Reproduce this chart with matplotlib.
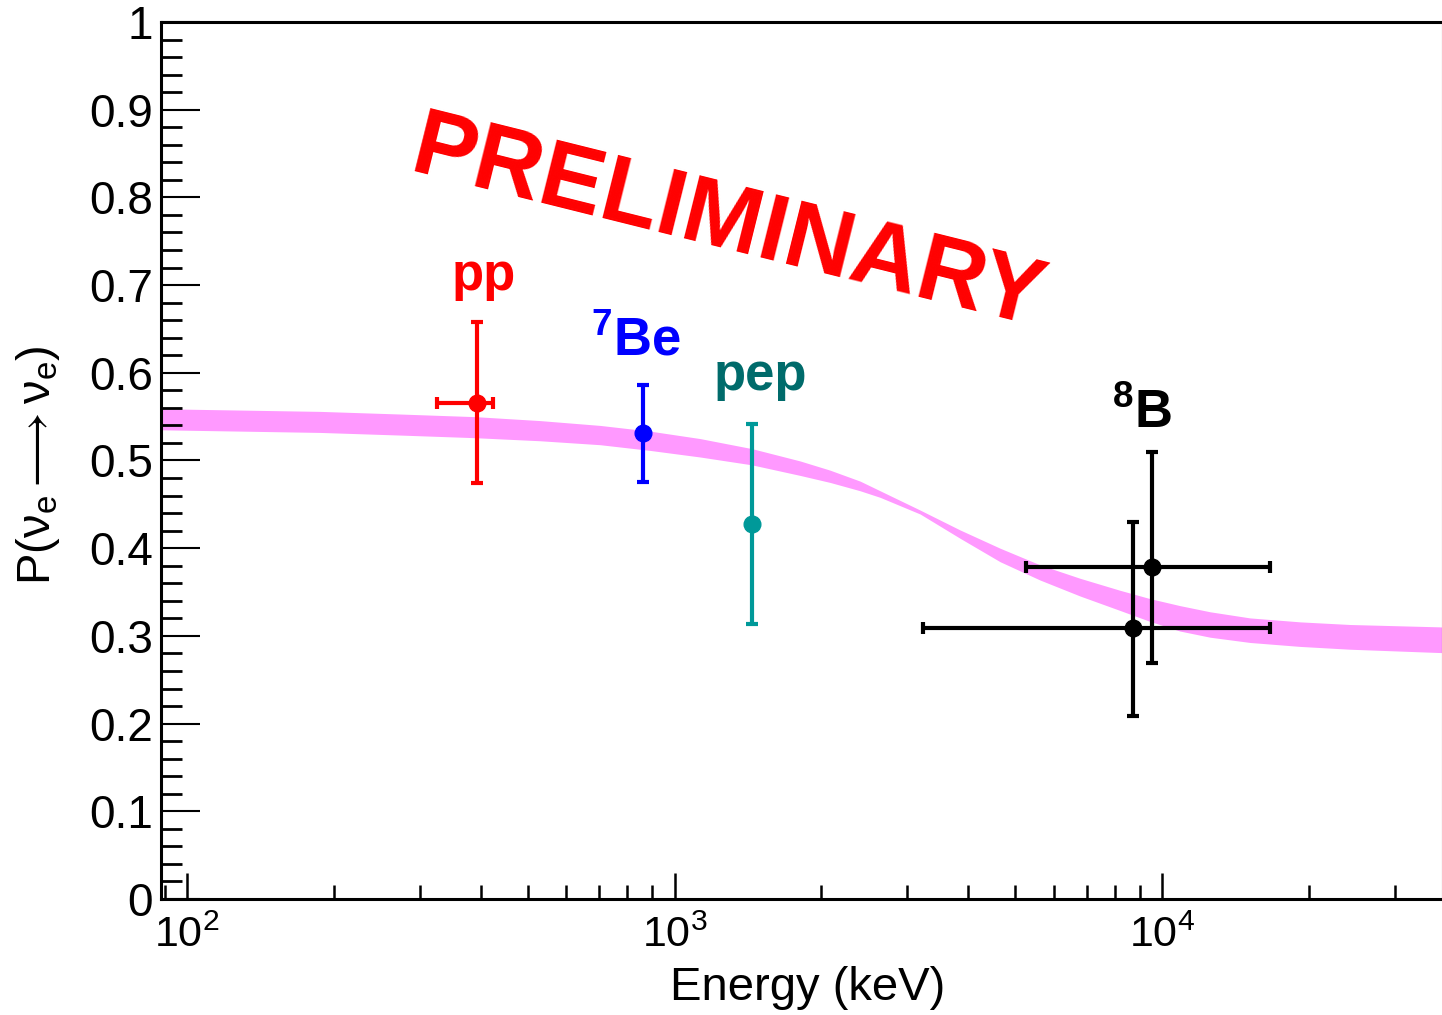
import numpy as np
import matplotlib
matplotlib.use("Agg")
import matplotlib.pyplot as plt
from matplotlib.ticker import MultipleLocator, LogLocator, NullFormatter, FuncFormatter

plt.rcParams['font.family'] = ['Liberation Sans', 'DejaVu Sans']
plt.rcParams['mathtext.fontset'] = 'custom'
plt.rcParams['mathtext.rm'] = 'Liberation Sans'
plt.rcParams['mathtext.it'] = 'Liberation Sans:italic'
plt.rcParams['mathtext.bf'] = 'Liberation Sans:bold'

# MSW-LMA survival probability band
band_E = [88.4, 187.5, 273.5, 389.8, 530, 703.5, 890.6, 1128, 1442, 1809,
          2084, 2402, 2640, 3189, 3852, 4653, 5620, 6788, 8200, 9449,
          10887, 12546, 15152, 19194, 24300, 37180, 37700]
band_hi = [0.559, 0.556, 0.553, 0.550, 0.5455, 0.540, 0.5335, 0.525, 0.5135, 0.4995,
           0.489, 0.4765, 0.4655, 0.4435, 0.4208, 0.400, 0.381, 0.3657, 0.352, 0.3425,
           0.3345, 0.3275, 0.3205, 0.316, 0.313, 0.3103, 0.310]
band_lo = [0.535, 0.532, 0.529, 0.526, 0.5225, 0.518, 0.5115, 0.504, 0.495, 0.483,
           0.475, 0.4655, 0.458, 0.439, 0.4113, 0.3846, 0.3637, 0.3455, 0.329, 0.3165,
           0.3055, 0.2985, 0.2925, 0.288, 0.2848, 0.281, 0.281]

# measured points
pp_E, pp_P = 394, 0.566
pp_Elo, pp_Ehi = 326, 424
pp_err = 0.092

be7_E, be7_P, be7_err = 862, 0.531, 0.055
pep_E, pep_P, pep_err = 1442, 0.428, 0.114

b8_E = [8720, 9540]
b8_P = [0.309, 0.379]
b8_Elo = [3234, 5260]
b8_Ehi = [16650, 16650]
b8_errlo = [0.100, 0.110]
b8_errhi = [0.121, 0.131]

fig = plt.figure(figsize=(14.42, 10.15), dpi=100)
ax = fig.add_axes([161/1442, 116/1015, 1282/1442, 877/1015])

ax.fill_between(band_E, band_lo, band_hi, color='#ff99ff', lw=0, zorder=1)

eb = dict(fmt='o', ms=12, elinewidth=3, capsize=4, capthick=3, zorder=3)
ax.errorbar(pp_E, pp_P, yerr=pp_err, xerr=[[pp_E - pp_Elo], [pp_Ehi - pp_E]],
            color='#ff0000', **eb)
ax.errorbar(be7_E, be7_P, yerr=be7_err, color='#0000ff', **eb)
ax.errorbar(pep_E, pep_P, yerr=pep_err, color='#009999', **eb)
b8_E = np.array(b8_E)
ax.errorbar(b8_E, b8_P, yerr=[b8_errlo, b8_errhi],
            xerr=[b8_E - np.array(b8_Elo), np.array(b8_Ehi) - b8_E],
            color='black', **eb)

lab = dict(ha='center', va='baseline', fontsize=38, fontweight='bold')
ax.text(405, 0.694, 'pp', color='#ff0000', **lab)
ax.text(834, 0.620, r'$\mathbf{^{7}}$Be', color='#0000ff', **lab)
ax.text(1496, 0.580, 'pep', color='#006b6b', **lab)
ax.text(9100, 0.537, r'$\mathbf{^{8}}$B', color='black', **lab)

fig.text(728/1442, 1 - 226/1015, 'PRELIMINARY', color='#ff0000', fontsize=68,
         fontweight='bold', rotation=-14, ha='center', va='center',
         rotation_mode='anchor')

ax.set_xscale('log')
ax.set_xlim(88.4, 37700)
ax.set_ylim(0, 1)

ax.yaxis.set_major_locator(MultipleLocator(0.1))
ax.yaxis.set_minor_locator(MultipleLocator(0.02))
ax.yaxis.set_major_formatter(FuncFormatter(lambda v, p: '%g' % round(v, 2)))
ax.xaxis.set_major_locator(LogLocator(base=10, numticks=20))
ax.xaxis.set_minor_locator(LogLocator(base=10, subs=np.arange(2, 10), numticks=20))
ax.xaxis.set_minor_formatter(NullFormatter())

for s in ax.spines.values():
    s.set_linewidth(2.2)
ax.tick_params(axis='both', which='both', direction='in', top=False, right=False,
               colors='black')
ax.tick_params(axis='y', which='major', length=28, width=1.5, pad=6, labelsize=33)
ax.tick_params(axis='y', which='minor', length=15, width=2)
ax.tick_params(axis='x', which='major', length=19, width=1.8, pad=12, labelsize=31)
ax.tick_params(axis='x', which='minor', length=10, width=1.8)

ax.set_xlabel('Energy (keV)', fontsize=34, ha='right', va='top')
ax.xaxis.set_label_coords((945 - 161)/1282, (899 - 966)/877)
ax.set_ylabel(r'P($\mathrm{\nu_{e}\longrightarrow\nu_{e}}$)', fontsize=34,
              ha='right', va='center')
ax.yaxis.set_label_coords((38 - 161)/1282, (899 - 345)/877)

fig.savefig('out.png', dpi=100)
